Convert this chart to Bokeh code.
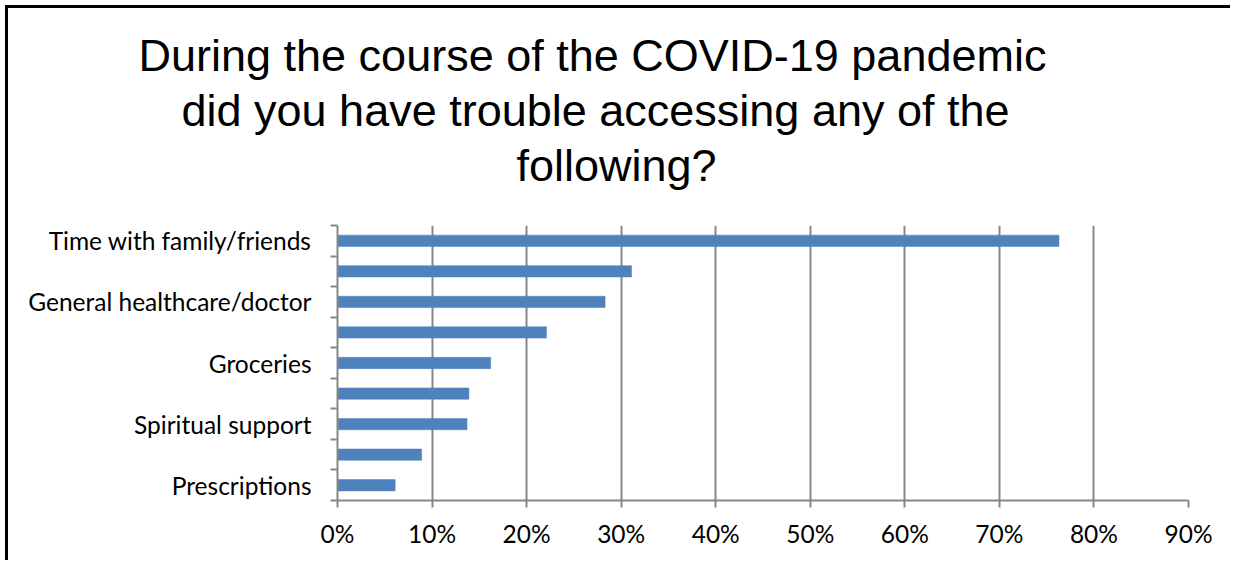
from bokeh.plotting import figure
from bokeh.models import Title, FixedTicker, NumeralTickFormatter, Range1d
from bokeh.embed import file_html
from bokeh.resources import INLINE

# ---- data (top to bottom as shown) ----
category_labels = ["Time with family/friends", "", "General healthcare/doctor", "",
                   "Groceries", "", "Spiritual support", "", "Prescriptions"]
shares = [0.763, 0.311, 0.283, 0.221, 0.162, 0.139, 0.137, 0.089, 0.061]
x_ticks = [0.0, 0.1, 0.2, 0.3, 0.4, 0.5, 0.6, 0.7, 0.8, 0.9]
title_lines = ["During the course of the COVID-19 pandemic",
               "did you have trouble accessing any of the",
               "following?"]

n = len(shares)
centers = [n - i - 0.5 for i in range(n)]

p = figure(width=1225, height=555, output_backend="svg", toolbar_location=None,
           x_range=Range1d(0, 0.9), y_range=Range1d(0, n),
           min_border_left=329, min_border_right=45, min_border_top=0,
           min_border_bottom=63)
p.styles = {"margin-left": "5px", "margin-top": "5px",
            "border-top": "3px solid black", "border-left": "3px solid black"}
p.outline_line_color = None
p.background_fill_color = "white"
p.border_fill_color = "white"

p.hbar(y=centers, right=shares, left=0, height=0.37, fill_color="#4F81BD",
       line_color="#4F81BD", line_width=0.5)

grid_col = "#878787"
# x axis
p.xaxis.ticker = FixedTicker(ticks=x_ticks)
p.xaxis.formatter = NumeralTickFormatter(format="0%")
p.xaxis.axis_line_color = grid_col
p.xaxis.axis_line_width = 2
p.xaxis.major_tick_line_color = grid_col
p.xaxis.major_tick_line_width = 2
p.xaxis.major_tick_out = 7
p.xaxis.major_tick_in = 0
p.xaxis.minor_tick_line_color = None
p.xaxis.major_label_standoff = 11
p.xaxis.major_label_text_font = "Lato"
p.xaxis.major_label_text_font_size = "24.5px"
p.xaxis.major_label_text_color = "black"

# y axis
p.yaxis.ticker = FixedTicker(ticks=centers, minor_ticks=list(range(n + 1)))
p.yaxis.major_label_overrides = {c: lab for c, lab in zip(centers, category_labels)}
p.yaxis.axis_line_color = grid_col
p.yaxis.axis_line_width = 2
p.yaxis.major_tick_line_color = None
p.yaxis.major_tick_out = 0
p.yaxis.major_tick_in = 0
p.yaxis.minor_tick_line_color = grid_col
p.yaxis.minor_tick_line_width = 2
p.yaxis.minor_tick_out = 7
p.yaxis.minor_tick_in = 0
p.yaxis.major_label_standoff = 19
p.yaxis.major_label_text_font = "Lato"
p.yaxis.major_label_text_font_size = "24.5px"
p.yaxis.major_label_text_color = "black"

p.xgrid.ticker = FixedTicker(ticks=x_ticks[1:])
p.xgrid.grid_line_color = grid_col
p.xgrid.grid_line_width = 2
p.ygrid.grid_line_color = None

# title: three lines stacked above the plot (innermost added first)
def spacer(h):
    return Title(text=" ", text_font_size="1px", standoff=h, text_color="white")

p.add_layout(spacer(31), "above")
offsets = [-199, -156, 179]
for line, off in reversed(list(zip(title_lines, offsets))):
    p.add_layout(Title(text=line, align="left", offset=off, standoff=2,
                       text_font="Liberation Sans", text_font_size="45px",
                       text_font_style="normal", text_color="black"), "above")
p.add_layout(spacer(15), "above")

open("out.html", "w").write(file_html(p, INLINE))
